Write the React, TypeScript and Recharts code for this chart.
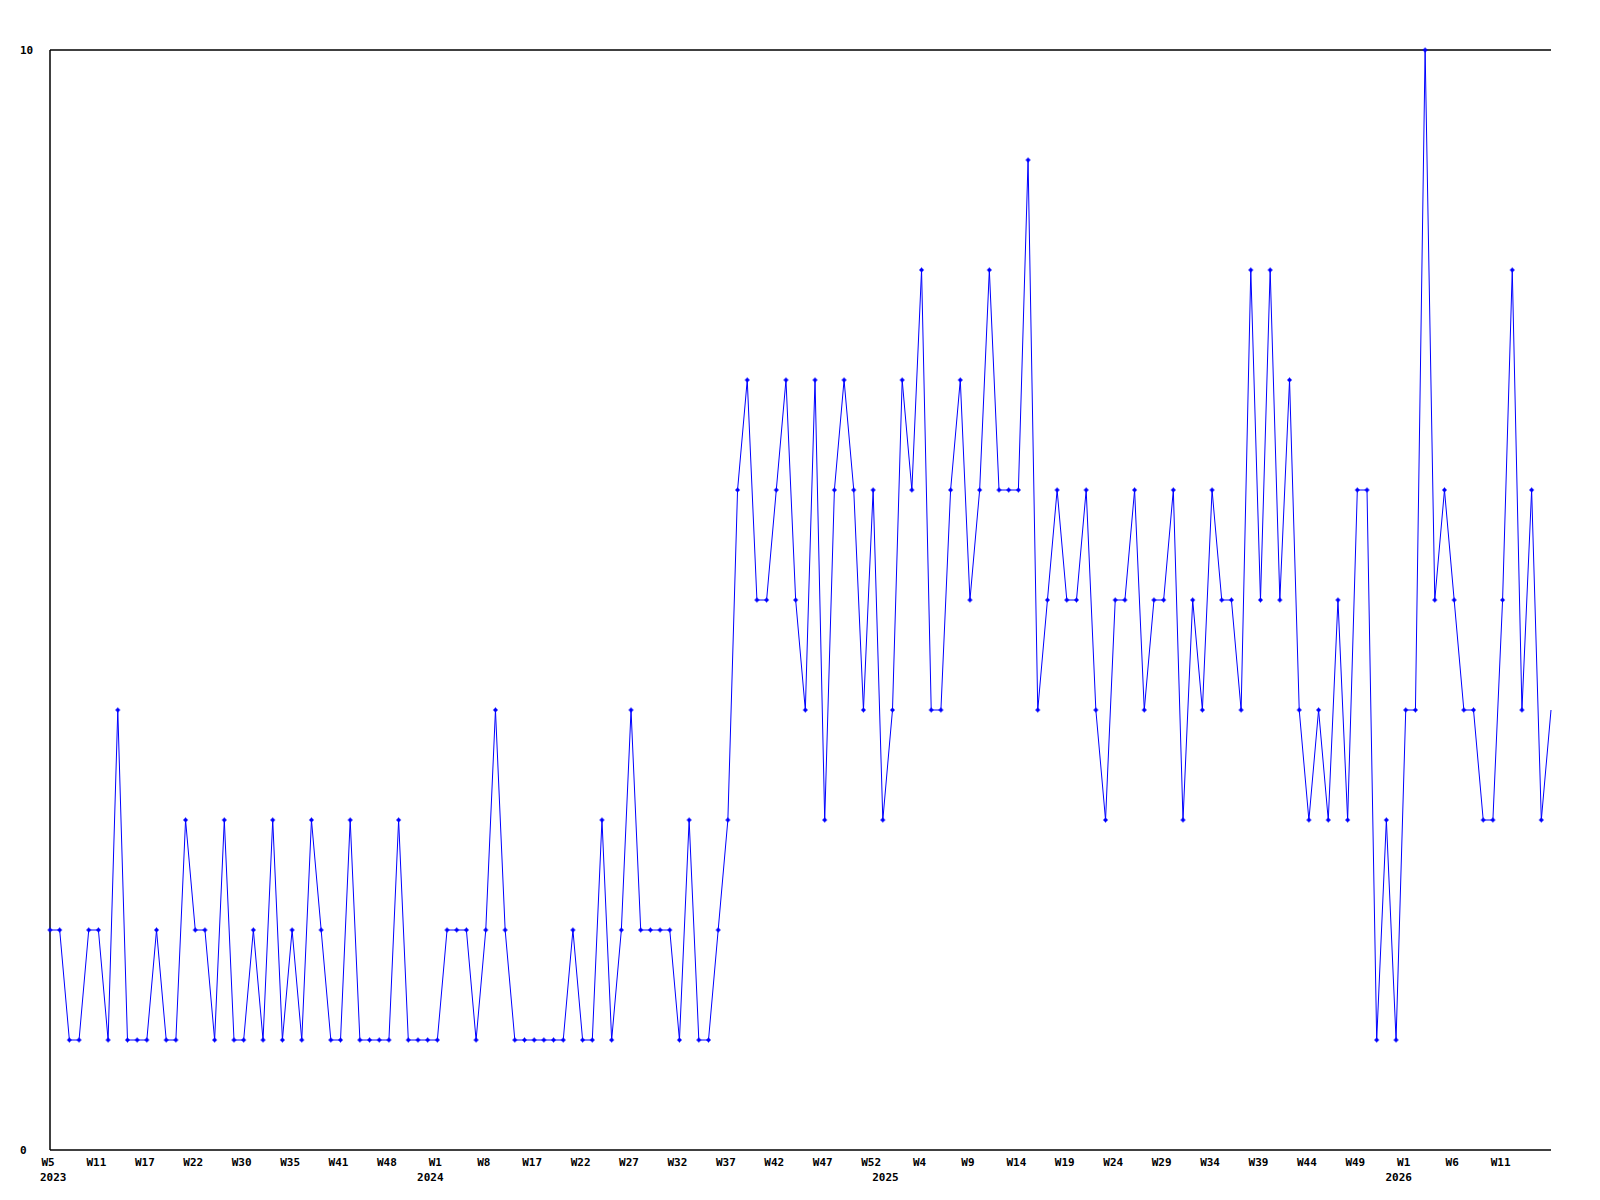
import React from "react";
import { LineChart, Line, XAxis, YAxis, ReferenceLine } from "recharts";

// weekly values, one per point
const values: number[] = [
  2, 2, 1, 1, 2, 2, 1, 4, 1, 1,
  1, 2, 1, 1, 3, 2, 2, 1, 3, 1,
  1, 2, 1, 3, 1, 2, 1, 3, 2, 1,
  1, 3, 1, 1, 1, 1, 3, 1, 1, 1,
  1, 2, 2, 2, 1, 2, 4, 2, 1, 1,
  1, 1, 1, 1, 2, 1, 1, 3, 1, 2,
  4, 2, 2, 2, 2, 1, 3, 1, 1, 2,
  3, 6, 7, 5, 5, 6, 7, 5, 4, 7,
  3, 6, 7, 6, 4, 6, 3, 4, 7, 6,
  8, 4, 4, 6, 7, 5, 6, 8, 6, 6,
  6, 9, 4, 5, 6, 5, 5, 6, 4, 3,
  5, 5, 6, 4, 5, 5, 6, 3, 5, 4,
  6, 5, 5, 4, 8, 5, 8, 5, 7, 4,
  3, 4, 3, 5, 3, 6, 6, 1, 3, 1,
  4, 4, 10, 5, 6, 5, 4, 4, 3, 3,
  5, 8, 4, 6, 3, 4,
];

// labels shown every 5th point
const weekLabels: string[] = [
  "W5", "W11", "W17", "W22", "W30", "W35", "W41", "W48",
  "W1", "W8", "W17", "W22", "W27", "W32", "W37", "W42", "W47", "W52",
  "W4", "W9", "W14", "W19", "W24", "W29", "W34", "W39", "W44", "W49",
  "W1", "W6", "W11",
];
const labelStep = 5;

// year labels and the point index where each year starts
const years: string[] = ["2023", "2024", "2025", "2026"];
const yearIndex: number[] = [0, 40, 87, 140];

const yTicks: number[] = [0, 10];

const data = values.map((v, i) => ({ i, v }));
const lastIndex = values.length - 1;

const weekTicks = weekLabels.map((_, k) => k * labelStep);
const allTicks = Array.from(new Set([...weekTicks, ...yearIndex])).sort((a, b) => a - b);

const FONT = "'DejaVu Sans Mono', monospace";

const XTick = (props: any) => {
  const { x, y, payload } = props;
  const idx = payload.value;
  const week = idx % labelStep === 0 ? weekLabels[idx / labelStep] : undefined;
  const yi = yearIndex.indexOf(idx);
  return (
    <g>
      {week && (
        <text x={x - 2} y={y + 16} textAnchor="middle" fontFamily={FONT} fontWeight="bold" fontSize={11} fill="#000">
          {week}
        </text>
      )}
      {yi >= 0 && (
        <text
          x={yi === 0 ? x - 10 : x - 7}
          y={y + 31}
          textAnchor={yi === 0 ? "start" : "middle"}
          fontFamily={FONT}
          fontWeight="bold"
          fontSize={11}
          fill="#000"
        >
          {years[yi]}
        </text>
      )}
    </g>
  );
};

const YTick = (props: any) => {
  const { x, y, payload } = props;
  return (
    <text x={x - 30} y={y + 4} textAnchor="start" fontFamily={FONT} fontWeight="bold" fontSize={11} fill="#000">
      {payload.value}
    </text>
  );
};

const Marker = (props: any) => {
  const { cx, cy, index } = props;
  if (index === lastIndex || cx == null) return <g key={`m-${index}`} />;
  return (
    <g key={`m-${index}`}>
      <rect x={cx - 1.5} y={cy - 1.5} width={3} height={3} fill="#0000ff" />
      <line x1={cx - 2.5} y1={cy} x2={cx + 2.5} y2={cy} stroke="#0000ff" strokeWidth={1} />
      <line x1={cx} y1={cy - 2.5} x2={cx} y2={cy + 2.5} stroke="#0000ff" strokeWidth={1} />
    </g>
  );
};

export default function App() {
  return (
    <div style={{ position: "absolute", left: 0, top: 0, width: 1600, height: 1200, background: "#fff" }}>
      <LineChart width={1600} height={1200} data={data} margin={{ top: 50, right: 49, bottom: 0, left: 0 }}>
        <XAxis
          dataKey="i"
          type="number"
          domain={[0, lastIndex]}
          ticks={allTicks}
          interval={0}
          height={50}
          tickLine={false}
          tickSize={0}
          tickMargin={0}
          axisLine={{ stroke: "#000", strokeWidth: 1.5 }}
          tick={<XTick />}
        />
        <YAxis
          type="number"
          domain={[0, 10]}
          ticks={yTicks}
          width={50}
          tickLine={false}
          tickSize={0}
          tickMargin={0}
          axisLine={{ stroke: "#000", strokeWidth: 1.5 }}
          tick={<YTick />}
        />
        <ReferenceLine y={10} stroke="#000" strokeWidth={1.5} />
        <Line
          type="linear"
          dataKey="v"
          stroke="#0000ff"
          strokeWidth={1}
          dot={<Marker />}
          activeDot={false}
          isAnimationActive={false}
        />
      </LineChart>
    </div>
  );
}
